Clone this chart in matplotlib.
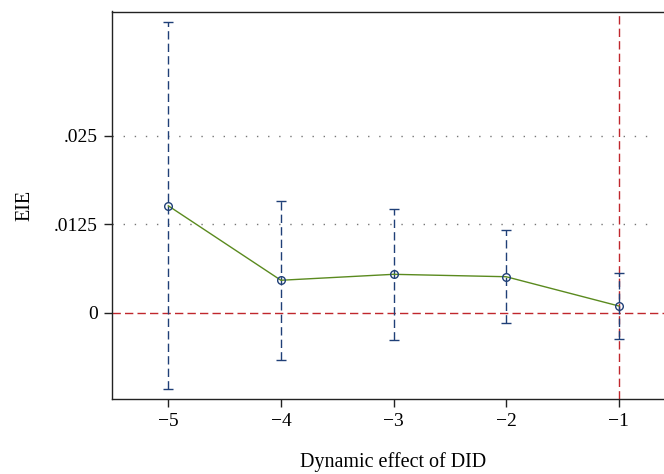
import matplotlib
matplotlib.use("Agg")
import matplotlib.pyplot as plt
import numpy as np

# Event-time coefficients with 95% CI
periods = [-5, -4, -3, -2, -1]
coef = [0.0151, 0.00458, 0.00542, 0.00508, 0.00095]
ci_low = [-0.0108, -0.00672, -0.00386, -0.00141, -0.00376]
ci_high = [0.0411, 0.01578, 0.01465, 0.01164, 0.00556]
yticks = [0, 0.0125, 0.025]
ytick_labels = ["0", ".0125", ".025"]
xtick_labels = ["\u22125", "\u22124", "\u22123", "\u22122", "\u22121"]

plt.rcParams['font.family'] = ['Liberation Serif', 'DejaVu Serif']

W, H = 664, 474
fig = plt.figure(figsize=(W / 100, H / 100), dpi=100)
# axes box runs past the right edge of the image, as in the reference
left, right, top, bottom = 112, 675, 11.5, 399
ax = fig.add_axes([left / W, 1 - bottom / H, (right - left) / W, (bottom - top) / H])

ax.set_xlim(-5.5, -0.5)
ax.set_ylim(-0.01219, 0.04254)

for y in yticks[1:]:
    ax.axhline(y, xmax=0.96, color='#777777', linestyle=(0, (1, 7)), linewidth=1.0, zorder=1)
ax.axhline(0, color='#c0272d', linestyle=(0, (6, 3)), linewidth=1.0, zorder=1)
ax.axvline(-1, color='#c0272d', linestyle=(0, (6, 3)), linewidth=1.0, zorder=1)

x = np.array(periods)
c = np.array(coef)
err = [c - np.array(ci_low), np.array(ci_high) - c]
eb = ax.errorbar(x, c, yerr=err, fmt='none', ecolor='#1f3f77', elinewidth=1.0,
                 capsize=3.5, capthick=1.0, zorder=2)
eb[2][0].set_linestyle((0, (6, 3)))
ax.plot(x, c, color='#5a8a1e', linewidth=1.0, zorder=3)
ax.plot(x, c, 'o', markerfacecolor='none', markeredgecolor='#1f3f77',
        markersize=5.5, markeredgewidth=1.0, zorder=4)

ax.set_xticks(periods)
ax.set_xticklabels(xtick_labels, fontsize=14)
ax.set_yticks(yticks)
ax.set_yticklabels(ytick_labels, fontsize=14)
ax.tick_params(length=6, width=1.0, color='#222222', pad=4)
for s in ax.spines.values():
    s.set_linewidth(1.0)
    s.set_color('#222222')

ax.set_xlabel("Dynamic effect of DID", fontsize=14.5, labelpad=16)
ax.set_ylabel("EIE", fontsize=14.5, labelpad=14)

fig.savefig("out.png", dpi=100)
